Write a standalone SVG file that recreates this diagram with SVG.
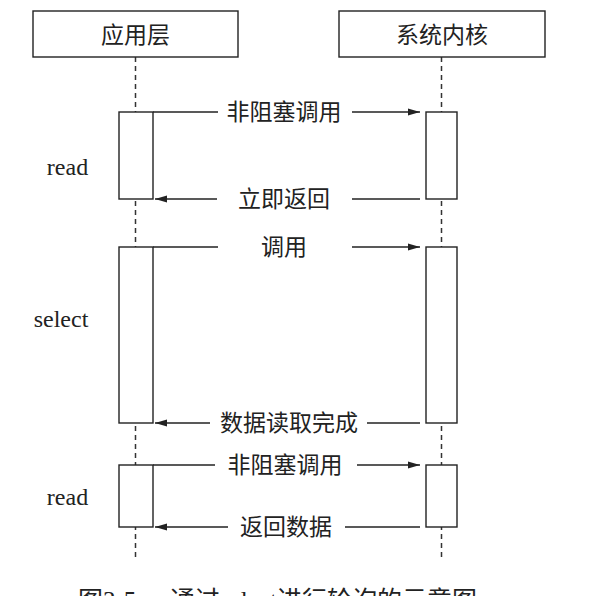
<svg xmlns="http://www.w3.org/2000/svg" width="606" height="596" viewBox="0 0 606 596">
<style>
.box{fill:#fff;stroke:#222;stroke-width:1.4}
.act{fill:#fff;stroke:#222;stroke-width:1.4}
.life{stroke:#333;stroke-width:1.5;stroke-dasharray:5 4;fill:none}
.msg{stroke:#222;stroke-width:1.3;fill:none}
.cjk{font-family:"Noto Sans CJK SC","Noto Sans",sans-serif;font-size:23px;fill:#222;text-anchor:middle}
.lbl{font-family:"Liberation Serif",serif;font-size:24px;fill:#222;text-anchor:middle}
.cap{font-family:"Liberation Serif","Noto Sans CJK SC",serif;font-size:25px;fill:#222}
</style>
<defs>
<marker id="ah" markerWidth="12" markerHeight="8" refX="12" refY="4" orient="auto" markerUnits="userSpaceOnUse">
<path d="M0,0.5 L12,4 L0,7.5 Z" fill="#222"/>
</marker>
</defs>
<rect width="606" height="596" fill="#fff"/>
<g id="lifelines">
<line class="life" x1="135.5" y1="57" x2="135.5" y2="558"/>
<line class="life" x1="441.5" y1="57" x2="441.5" y2="558"/>
</g>
<g id="app">
<rect class="box" x="33" y="11" width="205" height="46"/>
<text class="cjk" x="135.5" y="43">应用层</text>
</g>
<g id="kernel">
<rect class="box" x="339" y="11" width="206" height="46"/>
<text class="cjk" x="442" y="43">系统内核</text>
</g>
<g id="act-left-1"><rect class="act" x="119" y="112" width="34" height="87"/></g>
<g id="act-right-1"><rect class="act" x="426" y="112" width="31" height="87"/></g>
<g id="act-left-2"><rect class="act" x="119" y="247" width="34" height="176"/></g>
<g id="act-right-2"><rect class="act" x="426" y="247" width="31" height="176"/></g>
<g id="act-left-3"><rect class="act" x="119" y="465" width="34" height="62"/></g>
<g id="act-right-3"><rect class="act" x="426" y="465" width="31" height="62"/></g>
<g id="labels">
<text class="lbl" x="67.5" y="175">read</text>
<text class="lbl" x="61" y="327">select</text>
<text class="lbl" x="67.5" y="505">read</text>
</g>
<g id="connectors">
<line class="msg" x1="153" y1="112" x2="218" y2="112"/>
<line class="msg" x1="352" y1="112" x2="420" y2="112" marker-end="url(#ah)"/>
<text class="cjk" x="284" y="120">非阻塞调用</text>
<line class="msg" x1="420" y1="199" x2="352" y2="199"/>
<line class="msg" x1="217" y1="199" x2="155" y2="199" marker-end="url(#ah)"/>
<text class="cjk" x="284" y="207">立即返回</text>
<line class="msg" x1="153" y1="247" x2="218" y2="247"/>
<line class="msg" x1="352" y1="247" x2="420" y2="247" marker-end="url(#ah)"/>
<text class="cjk" x="284" y="255">调用</text>
<line class="msg" x1="420" y1="423" x2="367" y2="423"/>
<line class="msg" x1="210" y1="423" x2="155" y2="423" marker-end="url(#ah)"/>
<text class="cjk" x="289" y="431">数据读取完成</text>
<line class="msg" x1="153" y1="465" x2="215" y2="465"/>
<line class="msg" x1="357" y1="465" x2="420" y2="465" marker-end="url(#ah)"/>
<text class="cjk" x="285" y="473">非阻塞调用</text>
<line class="msg" x1="420" y1="527" x2="345" y2="527"/>
<line class="msg" x1="228" y1="527" x2="155" y2="527" marker-end="url(#ah)"/>
<text class="cjk" x="286" y="535">返回数据</text>
</g>
<text class="cap" x="78" y="609"><tspan>图3-5</tspan><tspan x="170">通过select进行轮询的示意图</tspan></text>
</svg>
